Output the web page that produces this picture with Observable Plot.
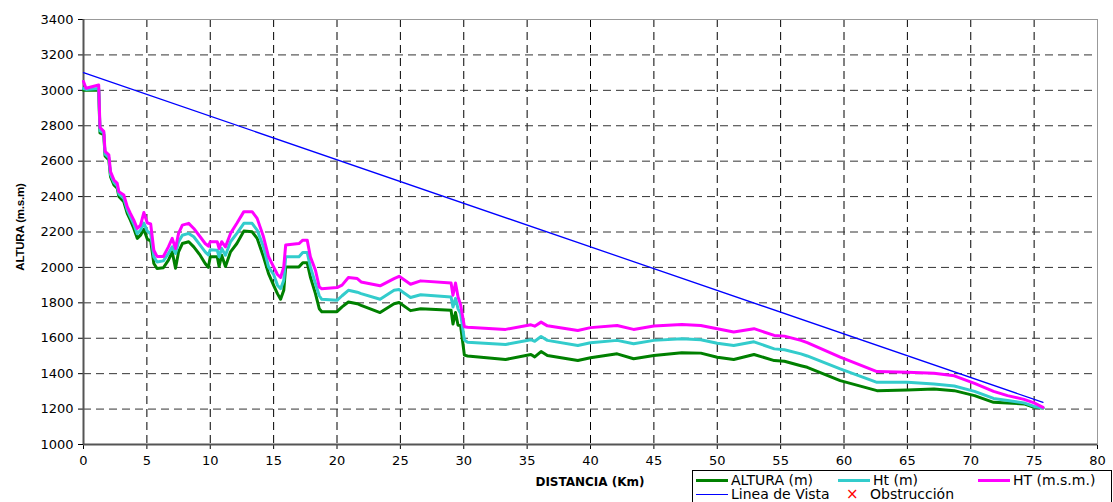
<!DOCTYPE html>
<html>
<head>
<meta charset="utf-8">
<script src="https://cdn.jsdelivr.net/npm/d3@7"></script>
<script src="https://cdn.jsdelivr.net/npm/@observablehq/plot@0.6"></script>
<style>
  html, body { margin: 0; padding: 0; background: #fff; }
  #wrap { position: relative; width: 1113px; height: 502px; overflow: hidden; }
  #chart svg { display: block; }
  .ttl { position: absolute; font-family: "Liberation Sans", Arial, sans-serif; font-weight: bold; color: #000; white-space: nowrap; }
  #xt { left: 590px; top: 482px; transform: translate(-50%, -50%); font-size: 12px; font-family: "DejaVu Sans", sans-serif; }
  #yt { left: 20px; top: 227px; transform: translate(-50%, -50%) rotate(-90deg); font-size: 11.5px; letter-spacing: -0.2px; }
  #legend { position: absolute; left: 692px; top: 470px; width: 420px; height: 40px; border: 1px solid #000; background: #fff; box-sizing: border-box; }
  .li { position: absolute; font-family: "DejaVu Sans", sans-serif; font-size: 14px; color: #000; white-space: nowrap; line-height: 14px; }
  .sw { position: absolute; height: 3px; width: 32px; }
</style>
</head>
<body>
<div id="wrap">
  <div id="chart"></div>
  <div id="xt" class="ttl">DISTANCIA (Km)</div>
  <div id="yt" class="ttl">ALTURA (m.s.m)</div>
  <div id="legend"></div>
</div>
<script>
// Distance along the path (km)
const distancia = [0, 0.2, 1.2, 1.3, 1.6, 1.7, 2.0, 2.13, 2.4, 2.66, 2.79, 3.18, 3.45, 3.7, 3.97, 4.24, 4.5, 4.76, 5.03, 5.3, 5.55, 5.8, 6.3, 6.7, 7.0, 7.26, 7.5, 7.8, 8.3, 8.7, 9.2, 9.6, 9.85, 10.0, 10.55, 10.7, 10.9, 11.2, 11.6, 12.1, 12.65, 13.3, 13.7, 14.2, 14.6, 15.0, 15.3, 15.55, 15.8, 15.95, 17.0, 17.3, 17.65, 17.9, 18.3, 18.6, 18.8, 20.0, 20.4, 20.9, 21.6, 21.9, 23.4, 24.5, 24.9, 25.8, 26.6, 29.0, 29.15, 29.35, 29.55, 29.75, 30.05, 30.3, 33.3, 35.3, 35.6, 36.1, 36.6, 39, 40, 42.1, 43.4, 45, 47.2, 48.7, 50, 51.3, 52.9, 54.5, 55.3, 56.6, 57.1, 59.7, 62.6, 65, 67.1, 68.7, 70.3, 71.8, 72.9, 74.2, 75.0, 75.7];
// ALTURA (m)
const altura = [3000, 3000, 3000, 2760, 2750, 2630, 2607, 2513, 2466, 2447, 2400, 2371, 2305, 2267, 2220, 2164, 2182, 2215, 2160, 2150, 2022, 1994, 1998, 2041, 2088, 1995, 2088, 2135, 2145, 2116, 2069, 2022, 2000, 2060, 2060, 2005, 2069, 2005, 2088, 2135, 2205, 2201, 2164, 2060, 1965, 1899, 1852, 1820, 1871, 2003, 2003, 2026, 2026, 1946, 1852, 1767, 1750, 1750, 1777, 1805, 1795, 1786, 1745, 1795, 1802, 1756, 1767, 1758, 1680, 1745, 1673, 1672, 1505, 1500, 1480, 1508, 1495, 1525, 1502, 1474, 1490, 1512, 1484, 1502, 1518, 1516, 1493, 1480, 1508, 1474, 1470, 1445, 1436, 1361, 1304, 1308, 1314, 1304, 1276, 1238, 1235, 1229, 1210, 1206];
// Ht (m)
const htM = [3010, 3005, 3010, 2772, 2760, 2640, 2620, 2525, 2480, 2460, 2415, 2390, 2325, 2285, 2245, 2190, 2210, 2250, 2205, 2190, 2060, 2031, 2037, 2079, 2116, 2079, 2145, 2182, 2192, 2173, 2126, 2088, 2070, 2100, 2097, 2060, 2107, 2069, 2145, 2192, 2249, 2249, 2211, 2116, 2003, 1960, 1900, 1880, 1927, 2060, 2060, 2084, 2084, 2003, 1909, 1840, 1820, 1814, 1840, 1871, 1860, 1852, 1820, 1871, 1875, 1830, 1846, 1833, 1776, 1825, 1766, 1740, 1590, 1578, 1565, 1592, 1583, 1610, 1588, 1559, 1575, 1588, 1569, 1588, 1597, 1592, 1572, 1559, 1580, 1540, 1535, 1512, 1500, 1427, 1351, 1351, 1342, 1330, 1300, 1260, 1248, 1235, 1215, 1206];
// HT (m.s.m.)
const htMsm = [3050, 3012, 3030, 2790, 2768, 2655, 2636, 2541, 2494, 2475, 2428, 2409, 2343, 2305, 2267, 2220, 2239, 2310, 2252, 2245, 2097, 2062, 2062, 2116, 2164, 2107, 2192, 2239, 2249, 2220, 2173, 2135, 2120, 2145, 2145, 2107, 2145, 2116, 2192, 2249, 2315, 2315, 2277, 2173, 2060, 2003, 1960, 1943, 2003, 2126, 2135, 2154, 2154, 2060, 1984, 1890, 1880, 1886, 1900, 1943, 1937, 1918, 1896, 1937, 1950, 1905, 1924, 1912, 1843, 1912, 1833, 1790, 1665, 1662, 1650, 1676, 1668, 1691, 1670, 1644, 1660, 1672, 1650, 1669, 1678, 1672, 1654, 1635, 1654, 1616, 1612, 1588, 1575, 1493, 1412, 1408, 1402, 1388, 1345, 1300, 1276, 1255, 1235, 1210];
// Linea de Vista (line of sight)
const vistaDist = [0, 75.7];
const vistaAlt = [3100, 1238];

// Axis ticks
const xTicks = [0, 5, 10, 15, 20, 25, 30, 35, 40, 45, 50, 55, 60, 65, 70, 75, 80];
const yTicks = [1000, 1200, 1400, 1600, 1800, 2000, 2200, 2400, 2600, 2800, 3000, 3200, 3400];
const xGrid = [5, 10, 15, 20, 25, 30, 35, 40, 45, 50, 55, 60, 65, 70, 75];
const yGrid = [1200, 1400, 1600, 1800, 2000, 2200, 2400, 2600, 2800, 3000, 3200];

const seriesNames = ["ALTURA (m)", "Ht (m)", "HT (m.s.m.)", "Linea de Vista"];
const seriesColors = ["#008000", "#33CCCC", "#FF00FF", "#0000FF"];

const toRows = (xs, ys) => xs.map((d, i) => ({d, v: ys[i]}));

const chart = Plot.plot({
  width: 1113,
  height: 502,
  marginLeft: 83,
  marginRight: 16,
  marginTop: 19,
  marginBottom: 58,
  style: {fontFamily: "'DejaVu Sans', sans-serif", fontSize: "13px", color: "#000", background: "#fff"},
  x: {domain: [0, 80], ticks: xTicks, tickSize: 5, tickPadding: 6, label: null, tickFormat: d => String(d)},
  y: {domain: [1000, 3400], ticks: yTicks, tickSize: 5, tickPadding: 5, label: null, tickFormat: d => String(d)},
  marks: [
    Plot.ruleX(xGrid, {stroke: "#000", strokeWidth: 1, strokeDasharray: "8,5"}),
    Plot.ruleY(yGrid, {stroke: "#333", strokeWidth: 1, strokeDasharray: "8,5"}),
    Plot.frame({stroke: "#999"}),
    Plot.ruleX([0], {stroke: "#555", strokeWidth: 2}),
    Plot.ruleY([1000], {stroke: "#555", strokeWidth: 2}),
    Plot.line(toRows(vistaDist, vistaAlt), {x: "d", y: "v", stroke: seriesColors[3], strokeWidth: 1.3}),
    Plot.line(toRows(distancia, altura), {x: "d", y: "v", stroke: seriesColors[0], strokeWidth: 3, strokeLinejoin: "round"}),
    Plot.line(toRows(distancia, htM), {x: "d", y: "v", stroke: seriesColors[1], strokeWidth: 3, strokeLinejoin: "round"}),
    Plot.line(toRows(distancia, htMsm), {x: "d", y: "v", stroke: seriesColors[2], strokeWidth: 3, strokeLinejoin: "round"})
  ]
});
document.getElementById("chart").appendChild(chart);

// Legend
const legend = document.getElementById("legend");
const items = [
  {name: seriesNames[0], color: seriesColors[0], left: 3, top: 9, kind: "line", w: 3},
  {name: seriesNames[1], color: seriesColors[1], left: 145, top: 9, kind: "line", w: 3},
  {name: seriesNames[2], color: seriesColors[2], left: 285, top: 9, kind: "line", w: 3},
  {name: seriesNames[3], color: seriesColors[3], left: 3, top: 23, kind: "line", w: 1},
  {name: "Obstrucción", color: "#FF0000", left: 153, top: 23, kind: "x"}
];
for (const it of items) {
  if (it.kind === "line") {
    const sw = document.createElement("div");
    sw.className = "sw";
    sw.style.left = it.left + "px";
    sw.style.top = (it.top - Math.floor(it.w / 2)) + "px";
    sw.style.height = it.w + "px";
    sw.style.background = it.color;
    legend.appendChild(sw);
    const t = document.createElement("div");
    t.className = "li";
    t.style.left = (it.left + 35) + "px";
    t.style.top = (it.top - 7) + "px";
    t.textContent = it.name;
    legend.appendChild(t);
  } else {
    const m = document.createElement("div");
    m.className = "li";
    m.style.left = it.left + "px";
    m.style.top = (it.top - 7) + "px";
    m.style.color = it.color;
    m.style.fontSize = "15px";
    m.style.lineHeight = "14px";
    m.textContent = "×";
    legend.appendChild(m);
    const t = document.createElement("div");
    t.className = "li";
    t.style.left = (it.left + 24) + "px";
    t.style.top = (it.top - 7) + "px";
    t.textContent = it.name;
    legend.appendChild(t);
  }
}
</script>
</body>
</html>
